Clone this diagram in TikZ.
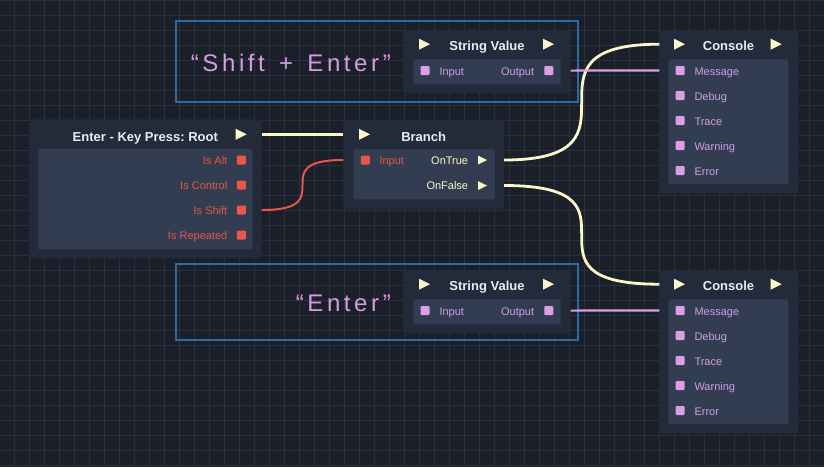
\documentclass[tikz,border=0pt]{standalone}
\usepackage{fontspec}
\setmainfont{Liberation Sans}
\newfontfamily\notefont[LetterSpace=15]{Liberation Sans}
\usepackage{tikz}
\usetikzlibrary{shapes.geometric}
\frenchspacing

\definecolor{bgcol}{HTML}{1B1F29}
\definecolor{gridcol}{HTML}{2B303C}
\definecolor{nodebg}{HTML}{232B3A}
\definecolor{panelbg}{HTML}{333D52}
\definecolor{titlecol}{HTML}{E6EDF5}
\definecolor{execcol}{HTML}{FCF7C8}
\definecolor{boolcol}{HTML}{E8574A}
\definecolor{boollabel}{HTML}{E0584A}
\definecolor{strcol}{HTML}{DD9EE6}
\definecolor{strlabel}{HTML}{C9A0E6}
\definecolor{notecol}{HTML}{2E6BA5}
\definecolor{notetext}{HTML}{D69BE0}

\begin{document}
\begin{tikzpicture}[x=1pt,y=-1pt,
    box/.style={fill=nodebg,rounded corners=3pt,inner sep=0pt,outer sep=0pt},
    panel/.style={fill=panelbg,rounded corners=1pt,inner sep=0pt,outer sep=0pt},
    heading/.style={text=titlecol,font=\fontsize{13}{13}\selectfont\bfseries,anchor=base,inner sep=0pt},
    execpin/.style={isosceles triangle,isosceles triangle stretches,fill=execcol,
      minimum width=#1,minimum height=#1,inner sep=0pt,outer sep=0pt,anchor=apex},
    execpin/.default=11pt,
    port/.style={rectangle,minimum size=9pt,inner sep=0pt,outer sep=0pt,rounded corners=1pt,fill=#1},
    lbl/.style={font=\fontsize{11}{11}\selectfont,inner sep=0pt,text=#1},
    execwire/.style={draw=execcol,line width=2.8pt},
    boolwire/.style={draw=boollabel,line width=2pt},
    strwire/.style={draw=strcol,line width=2.2pt},
    note/.style={draw=notecol,line width=1.8pt,inner sep=0pt,outer sep=0pt},
    notelbl/.style={font=\notefont\fontsize{24}{24}\selectfont,text=notetext,anchor=base east,inner sep=0pt},
    gridline/.style={draw=gridcol,line width=1pt}]

  \useasboundingbox (0,0) rectangle (824,467);
  \fill[bgcol] (0,0) rectangle (824,467);

  % background grid
  \foreach \gx in {14.5,29.5,...,809.5} \draw[gridline] (\gx,0) -- (\gx,467);
  \foreach \gy in {0,15,...,465} \draw[gridline] (0,\gy) -- (824,\gy);

  % key press node
  \node[box,minimum width=232.7pt,minimum height=139pt] (kp) at (145.35,188.8) {};
  \node[panel,minimum width=214.4pt,minimum height=100.3pt] (kp-panel) at (145.5,199.2) {};
  \node[heading] (kp-title) at (145.35,141) {Enter - Key Press: Root};
  \node[execpin] (kp-exec) at (246.7,134.3) {};
  \foreach \lab [count=\k from 0] in {Is Alt,Is Control,Is Shift,Is Repeated}{
    \node[port=boolcol] (kp-p\k) at (241.3,160+25*\k) {};
    \node[lbl=boollabel,anchor=base east] (kp-l\k) at (227.5,164.5+25*\k) {\lab};
  }

  % branch node
  \node[box,minimum width=160.7pt,minimum height=89pt] (br) at (423.65,164.5) {};
  \node[panel,minimum width=141.7pt,minimum height=50pt] (br-panel) at (424.2,174.3) {};
  \node[heading] (br-title) at (423.65,141) {Branch};
  \node[execpin] (br-exec) at (370,134.3) {};
  \node[port=boolcol] (br-in) at (365.3,160) {};
  \node[lbl=boollabel,anchor=base west] (br-inl) at (379.3,164.5) {Input};
  \node[execpin=9pt] (br-true) at (487,160) {};
  \node[lbl=execcol,anchor=base east] (br-truel) at (468.3,164.5) {OnTrue};
  \node[execpin=9pt] (br-false) at (487,185.5) {};
  \node[lbl=execcol,anchor=base east] (br-falsel) at (468.3,189.5) {OnFalse};

  % string value + console, upper and lower copy
  \foreach \i/\dy/\txt/\nh in {1/0/{“Shift\hspace{4pt} + \hspace{4pt}Enter”}/81,2/240/{“Enter”}/76}{
    \begin{scope}[shift={(0,\dy)}]
      \node[note,minimum width=402pt,minimum height=\nh pt,anchor=north west] (note\i) at (176,21+3*\i-3) {};
      \node[notelbl] (note\i-text) at (391,71) {\txt};

      \node[box,minimum width=167.4pt,minimum height=63.3pt] (sv\i) at (487,61.65) {};
      \node[panel,minimum width=147.4pt,minimum height=24.7pt] (sv\i-panel) at (487,71.7) {};
      \node[heading] (sv\i-title) at (487,50.5) {String Value};
      \node[execpin] (sv\i-exec) at (430,44.2) {};
      \node[execpin] (sv\i-next) at (554,44.2) {};
      \node[port=strcol] (sv\i-in) at (425,70.6) {};
      \node[lbl=strlabel,anchor=base west] (sv\i-inl) at (439.3,75) {Input};
      \node[port=strcol] (sv\i-out) at (548.8,70.6) {};
      \node[lbl=strlabel,anchor=base east] (sv\i-outl) at (534.3,75) {Output};

      \node[box,minimum width=139pt,minimum height=163.3pt] (con\i) at (728.8,111.65) {};
      \node[panel,minimum width=119.6pt,minimum height=124.7pt] (con\i-panel) at (728.5,121.7) {};
      \node[heading] (con\i-title) at (728.5,50.5) {Console};
      \node[execpin] (con\i-exec) at (685,44.2) {};
      \node[execpin] (con\i-next) at (781.7,44.2) {};
      \foreach \lab [count=\k from 0] in {Message,Debug,Trace,Warning,Error}{
        \node[port=strcol] (con\i-p\k) at (680.2,70.5+25*\k) {};
        \node[lbl=strlabel,anchor=base west] (con\i-l\k) at (694.3,75+25*\k) {\lab};
      }
    \end{scope}
  }

  % wire ends on the node borders
  \coordinate (w-exec-a) at (kp-exec -| kp.east);
  \coordinate (w-exec-b) at (br-exec -| br.west);
  \coordinate (w-shift-a) at (kp-p2 -| kp.east);
  \coordinate (w-shift-b) at (br-in -| br.west);
  \coordinate (w-true-a) at (br-true -| br.east);
  \coordinate (w-true-b) at (con1-exec -| con1.west);
  \coordinate (w-false-a) at (br-false -| br.east);
  \coordinate (w-false-b) at (con2-exec -| con2.west);

  \draw[execwire] (w-exec-a) -- (w-exec-b);
  \draw[boolwire] (w-shift-a) .. controls (w-shift-a -| w-shift-b) and (w-shift-b -| w-shift-a) .. (w-shift-b);
  \draw[execwire] (w-true-a) .. controls (w-true-a -| w-true-b) and (w-true-b -| w-true-a) .. (w-true-b);
  \draw[execwire] (w-false-a) .. controls (w-false-a -| w-false-b) and (w-false-b -| w-false-a) .. (w-false-b);
  \draw[strwire] (sv1-out -| sv1.east) -- (con1-p0 -| con1.west);
  \draw[strwire] (sv2-out -| sv2.east) -- (con2-p0 -| con2.west);
\end{tikzpicture}
\end{document}
